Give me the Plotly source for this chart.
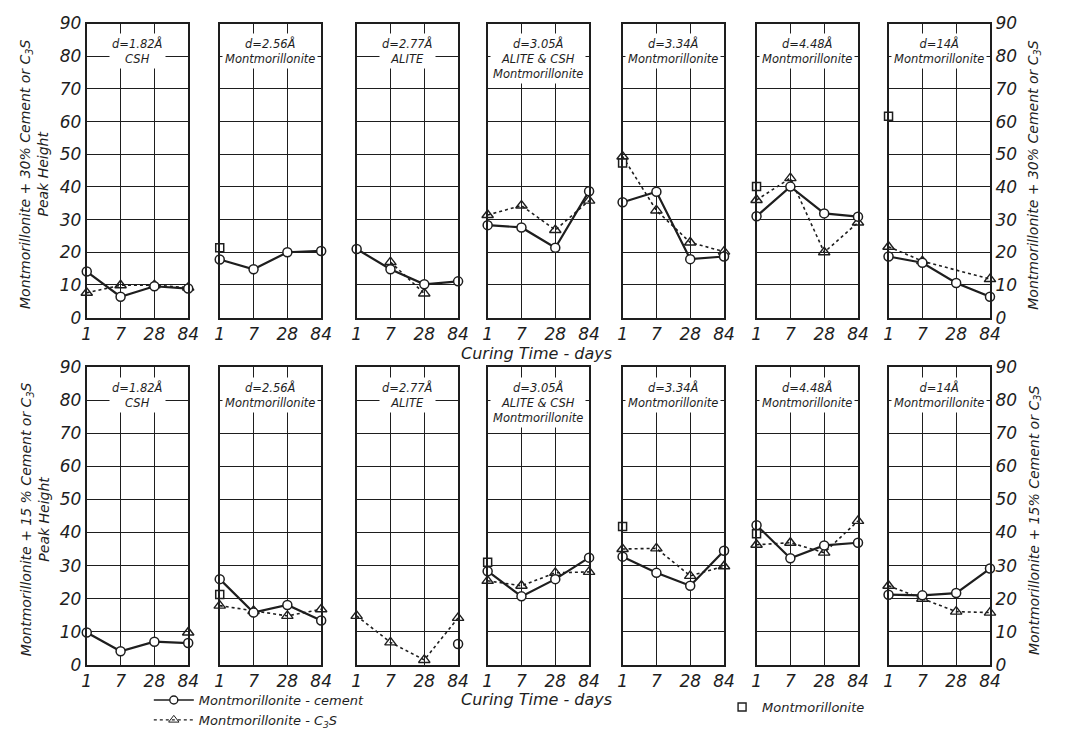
import plotly.graph_objects as go

# Curing times (equally spaced categories)
days = ["1", "7", "28", "84"]

# Diffraction peaks shown in each column
peak_labels = [
    "d=1.82Å<br>CSH",
    "d=2.56Å<br>Montmorillonite",
    "d=2.77Å<br>ALITE",
    "d=3.05Å<br>ALITE & CSH<br>Montmorillonite",
    "d=3.34Å<br>Montmorillonite",
    "d=4.48Å<br>Montmorillonite",
    "d=14Å<br>Montmorillonite",
]

# Peak heights, montmorillonite + 30 % cement or C3S
cement_30 = [
    [14.1, 6.4, 9.6, 8.9],
    [17.8, 14.8, 20.0, 20.4],
    [21.0, 14.8, 10.2, 11.1],
    [28.3, 27.6, 21.4, 38.7],
    [35.3, 38.5, 17.9, 18.7],
    [31.0, 40.1, 31.9, 30.9],
    [18.7, 16.8, 10.6, 6.4],
]
c3s_30 = [
    [7.6, 9.9, 9.9, 9.2],
    [None, None, None, None],
    [None, 17.0, 7.4, None],
    [31.4, 34.3, 26.8, 35.8],
    [49.3, 32.8, 23.0, 20.2],
    [36.0, 42.7, 20.0, 29.1],
    [21.7, 17.3, None, 11.8],
]
montmorillonite_30 = [None, 21.4, None, None, 47.3, 40.1, 61.6]

# Peak heights, montmorillonite + 15 % cement or C3S
cement_15 = [
    [9.8, 4.1, 7.0, 6.6],
    [25.9, 15.8, 18.1, 13.4],
    [None, None, None, 6.3],
    [28.3, 20.7, 25.9, 32.4],
    [32.7, 27.8, 23.9, 34.5],
    [42.2, 32.2, 36.1, 36.9],
    [21.2, 21.0, 21.7, 29.1],
]
c3s_15 = [
    [None, None, None, 9.8],
    [17.9, 16.3, 14.8, 16.8],
    [14.8, 6.8, 1.5, 14.2],
    [25.4, 23.9, 27.8, 28.1],
    [35.0, 35.2, 26.9, 29.8],
    [36.3, 36.9, 33.9, 43.5],
    [23.9, 20.0, 16.1, 15.8],
]
montmorillonite_15 = [None, 21.3, None, 31.0, 41.8, 39.6, None]

y_ticks = [0, 10, 20, 30, 40, 50, 60, 70, 80, 90]

W, H = 1066, 735
INK = "#1e1e1e"
FONT = "DejaVu Sans"

panel_left = [83, 218, 357, 490, 627, 763, 897]
panel_width = 103
row_px = [(14, 318), (369, 677)]

fig = go.Figure()

rows = [
    (cement_30, c3s_30, montmorillonite_30,
     "Montmorillonite + 30% Cement or C<sub>3</sub>S",
     "Montmorillonite + 30% Cement or C<sub>3</sub>S<br>Peak Height"),
    (cement_15, c3s_15, montmorillonite_15,
     "Montmorillonite + 15% Cement or C<sub>3</sub>S",
     "Montmorillonite + 15 % Cement or C<sub>3</sub>S<br>Peak Height"),
]

idx = 0
for r, (cem, c3s, mont, right_title, left_title) in enumerate(rows):
    top_px, bot_px = row_px[r]
    ydom = [1 - bot_px / H, 1 - top_px / H]
    for p in range(7):
        idx += 1
        xa = "x" if idx == 1 else f"x{idx}"
        ya = "y" if idx == 1 else f"y{idx}"
        xkey = "xaxis" if idx == 1 else f"xaxis{idx}"
        ykey = "yaxis" if idx == 1 else f"yaxis{idx}"
        x0 = panel_left[p] / W
        x1 = (panel_left[p] + panel_width) / W

        fig.add_trace(go.Scatter(
            x=days, y=c3s[p], xaxis=xa, yaxis=ya,
            mode="lines+markers", connectgaps=True,
            line=dict(color=INK, width=1.6, dash="dot"),
            marker=dict(symbol="triangle-up-open", size=10, color=INK,
                        line=dict(width=1.4)),
            cliponaxis=False, showlegend=False,
        ))
        fig.add_trace(go.Scatter(
            x=days, y=cem[p], xaxis=xa, yaxis=ya,
            mode="lines+markers",
            line=dict(color=INK, width=2.2),
            marker=dict(symbol="circle", size=9, color="white",
                        line=dict(width=1.5, color=INK)),
            cliponaxis=False, showlegend=False,
        ))
        fig.add_trace(go.Scatter(
            x=[days[0]], y=[mont[p]], xaxis=xa, yaxis=ya,
            mode="markers",
            marker=dict(symbol="square", size=8, color="white",
                        line=dict(width=1.5, color=INK)),
            cliponaxis=False, showlegend=False,
        ))

        fig.layout[xkey] = dict(
            domain=[x0, x1], anchor=ya, type="category",
            categoryorder="array", categoryarray=days,
            range=[0, 3], showgrid=True, gridcolor=INK, gridwidth=1.4,
            showline=True, linecolor=INK, linewidth=2, mirror=True,
            ticks="", tickfont=dict(family=FONT, size=17, color=INK, style="italic"),
            zeroline=False, fixedrange=True,
        )
        fig.layout[ykey] = dict(
            domain=ydom, anchor=xa, range=[0, 90], tickvals=y_ticks,
            showgrid=True, gridcolor=INK, gridwidth=1.4,
            showline=True, linecolor=INK, linewidth=2, mirror=True,
            ticks="", zeroline=False, fixedrange=True,
            showticklabels=(p in (0, 6)), side="right" if p == 6 else "left",
            tickfont=dict(family=FONT, size=17, color=INK, style="italic"),
        )

        # peak identification box at the top of each panel
        fig.add_annotation(
            x=(x0 + x1) / 2, y=1 - (top_px + 10) / H, xref="paper", yref="paper",
            text=peak_labels[p], showarrow=False, xanchor="center", yanchor="top",
            bgcolor="white", borderpad=2,
            font=dict(family=FONT, size=11.5, color=INK, style="italic"),
        )

    mid = 1 - ((top_px + bot_px) / 2 + 4) / H
    fig.add_annotation(
        x=30 / W, y=mid, xref="paper", yref="paper", text=left_title,
        textangle=-90, showarrow=False, xanchor="center", yanchor="middle",
        font=dict(family=FONT, size=14, color=INK, style="italic"),
    )
    fig.add_annotation(
        x=1045 / W, y=mid, xref="paper", yref="paper", text=right_title,
        textangle=-90, showarrow=False, xanchor="center", yanchor="middle",
        font=dict(family=FONT, size=14, color=INK, style="italic"),
    )

for ypx in (355, 713):
    fig.add_annotation(
        x=540 / W, y=1 - ypx / H, xref="paper", yref="paper",
        text="Curing Time - days", showarrow=False,
        xanchor="center", yanchor="middle",
        font=dict(family=FONT, size=16, color=INK, style="italic"),
    )

# legend entries
fig.add_trace(go.Scatter(
    x=[None], y=[None], mode="lines+markers", name="Montmorillonite - cement",
    line=dict(color=INK, width=1.6),
    marker=dict(symbol="circle", size=8, color="white", line=dict(width=1.4, color=INK)),
    legend="legend",
))
fig.add_trace(go.Scatter(
    x=[None], y=[None], mode="lines+markers", name="Montmorillonite - C<sub>3</sub>S",
    line=dict(color=INK, width=1.4, dash="dot"),
    marker=dict(symbol="triangle-up-open", size=9, color=INK),
    legend="legend",
))
fig.add_trace(go.Scatter(
    x=[None], y=[None], mode="markers", name="Montmorillonite",
    marker=dict(symbol="square", size=8, color="white", line=dict(width=1.4, color=INK)),
    legend="legend2",
))

fig.update_layout(
    width=W, height=H,
    margin=dict(l=0, r=0, t=0, b=0),
    paper_bgcolor="white", plot_bgcolor="white",
    legend=dict(x=146 / W, y=1 - 698 / H, xanchor="left", yanchor="top",
                bgcolor="rgba(0,0,0,0)", tracegroupgap=0, itemwidth=40,
                font=dict(family=FONT, size=13, color=INK, style="italic")),
    legend2=dict(x=728 / W, y=1 - 705 / H, xanchor="left", yanchor="top",
                 bgcolor="rgba(0,0,0,0)", itemwidth=30,
                 font=dict(family=FONT, size=13, color=INK, style="italic")),
)

fig.write_html("out.html")
